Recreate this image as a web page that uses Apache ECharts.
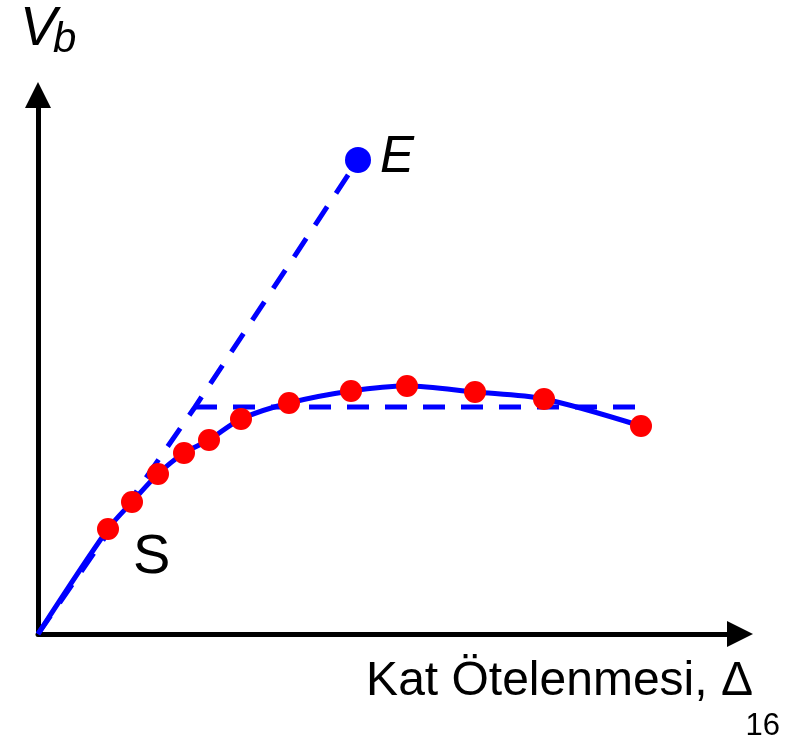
<!DOCTYPE html>
<html>
<head>
<meta charset="utf-8">
<title>Kat Ötelenmesi</title>
<script src="https://cdn.jsdelivr.net/npm/echarts@6/dist/echarts.min.js"></script>
<style>
  html, body { margin: 0; padding: 0; background: #fff; }
  #chart { width: 792px; height: 743px; }
</style>
</head>
<body>
<div id="chart"></div>
<script>
  // deney noktalari (kat otelenmesi, taban kesme kuvveti)
  var testDrift = [70, 94, 120, 146, 171, 203, 251, 313, 369, 437, 506, 603]
  var testShear = [105, 132, 160, 181, 194, 215, 231, 243, 248, 242, 235, 208]
  // iki dogrulu idealizasyon
  var bilinearDrift = [0, 157, 600]
  var bilinearShear = [0, 227, 227]
  // elastik nokta E
  var elasticPoint = [320, 474]

  var font = '"Liberation Sans", Arial, sans-serif'

  var testPts = testDrift.map(function (x, i) { return [x, testShear[i]] })
  var curvePts = [[0, 0]].concat(testPts)

  var chart = echarts.init(document.getElementById('chart'))
  chart.setOption({
    animation: false,
    grid: { left: 38, right: 52, top: 95, bottom: 109 },
    xAxis: {
      type: 'value', min: 0, max: 702,
      axisLine: { lineStyle: { color: '#000', width: 5 }, symbol: ['none', 'triangle'], symbolSize: [26, 26] },
      axisTick: { show: false }, axisLabel: { show: false }, splitLine: { show: false }
    },
    yAxis: {
      type: 'value', min: 0, max: 539,
      axisLine: { lineStyle: { color: '#000', width: 5 }, symbol: ['none', 'triangle'], symbolSize: [26, 26] },
      axisTick: { show: false }, axisLabel: { show: false }, splitLine: { show: false }
    },
    series: [
      {
        // elastik kol: orijin -> kirilma -> E
        type: 'line',
        data: [[bilinearDrift[0], bilinearShear[0]], [bilinearDrift[1], bilinearShear[1]], elasticPoint],
        showSymbol: false,
        lineStyle: { color: '#0000ff', width: 5, type: [22, 16] },
        z: 2
      },
      {
        // plastik kol
        type: 'line',
        data: [[bilinearDrift[1], bilinearShear[1]], [bilinearDrift[2], bilinearShear[2]]],
        showSymbol: false,
        lineStyle: { color: '#0000ff', width: 5, type: [22, 16] },
        z: 2
      },
      {
        type: 'line',
        data: curvePts,
        smooth: 0.3,
        showSymbol: false,
        lineStyle: { color: '#0000ff', width: 5 },
        z: 3
      },
      {
        type: 'scatter',
        data: testPts,
        symbolSize: 22,
        itemStyle: { color: '#ff0000', opacity: 1 },
        z: 4
      },
      {
        type: 'scatter',
        data: [elasticPoint],
        symbolSize: 26,
        itemStyle: { color: '#0000ff', opacity: 1 },
        label: {
          show: true, position: 'right', distance: 9, offset: [0, -2],
          formatter: 'E', color: '#000', fontStyle: 'italic', fontSize: 51, fontFamily: font
        },
        z: 4
      }
    ],
    graphic: [
      { type: 'text', x: 20, y: 30, style: { text: 'V', font: 'italic 55px ' + font, fill: '#000', verticalAlign: 'middle' } },
      { type: 'text', x: 53, y: 40, style: { text: 'b', font: 'italic 42px ' + font, fill: '#000', verticalAlign: 'middle' } },
      { type: 'text', x: 133, y: 558, style: { text: 'S', font: '56px ' + font, fill: '#000', verticalAlign: 'middle' } },
      { type: 'text', x: 753, y: 682, style: { text: 'Kat Ötelenmesi, Δ', font: '48px ' + font, fill: '#000', align: 'right', verticalAlign: 'middle' } },
      { type: 'text', x: 780, y: 726, style: { text: '16', font: '31px ' + font, fill: '#000', align: 'right', verticalAlign: 'middle' } }
    ]
  })
</script>
</body>
</html>
